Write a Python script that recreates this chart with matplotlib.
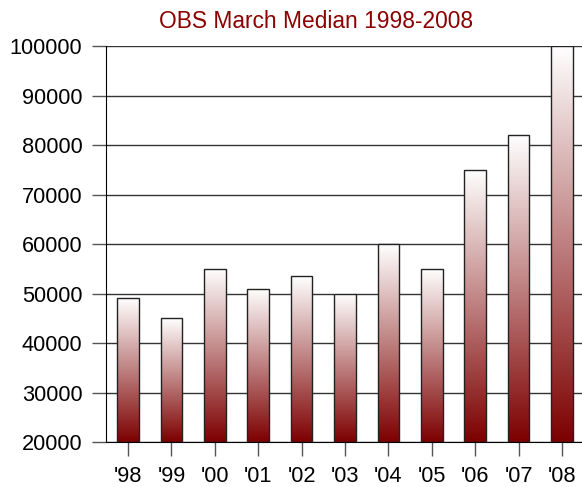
import numpy as np
import matplotlib
matplotlib.use('Agg')
import matplotlib.pyplot as plt
from matplotlib.colors import LinearSegmentedColormap

# data
years = ["'98", "'99", "'00", "'01", "'02", "'03", "'04", "'05", "'06", "'07", "'08"]
medians = [49000, 45000, 55000, 51000, 53500, 50000, 60000, 55000, 75000, 82000, 100000]
y_ticks = [20000, 30000, 40000, 50000, 60000, 70000, 80000, 90000, 100000]

plt.rcParams['font.family'] = ['Liberation Sans', 'DejaVu Sans']

fig = plt.figure(figsize=(5.82, 4.87), dpi=100)
ax = fig.add_axes([0.1821, 0.0924, 0.8179, 0.8131])

# gridlines behind bars
for t in y_ticks:
    ax.axhline(t, color='#333333', lw=1.0, zorder=0)

cmap = LinearSegmentedColormap.from_list('redwhite', ['#7d0000', '#ffffff'])
grad = np.linspace(0, 1, 256).reshape(-1, 1)
w = 0.5
base = y_ticks[0]
for i, v in enumerate(medians):
    ax.imshow(grad, cmap=cmap, origin='lower', aspect='auto',
              extent=[i - w / 2, i + w / 2, base, v], zorder=2, interpolation='bilinear')
ax.bar(range(len(years)), [v - base for v in medians], bottom=base, width=w,
       facecolor='none', edgecolor='#222222', lw=1.0, zorder=3)

ax.set_xlim(-0.507, 10.46)
ax.set_ylim(20000, 100000)
ax.set_yticks(y_ticks)
ax.set_yticklabels([str(t) for t in y_ticks])
ax.set_xticks(range(len(years)))
ax.set_xticklabels(years)

for s in ['top', 'right']:
    ax.spines[s].set_visible(False)
ax.spines['left'].set_color('black')
ax.spines['bottom'].set_color('black')
ax.tick_params(axis='y', length=10, width=1, color='#555555', labelsize=15.7, pad=7)
ax.tick_params(axis='x', length=10, width=1, color='#555555', labelsize=15.7, pad=7)

fig.text(0.543, 0.955, 'OBS March Median 1998-2008', color='#8b0000',
         fontsize=16.4, ha='center', va='center')

fig.savefig('out.png', dpi=100)
